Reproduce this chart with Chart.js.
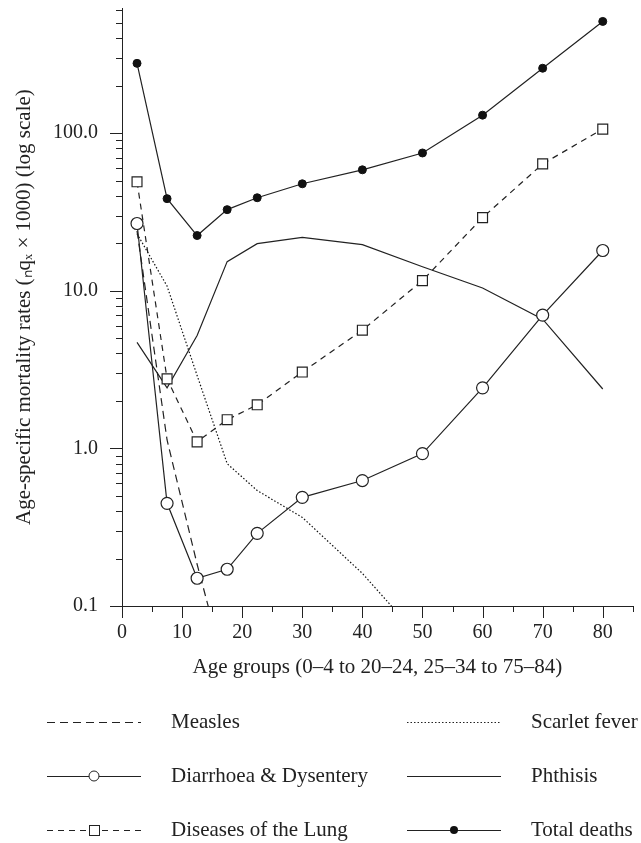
<!DOCTYPE html>
<html>
<head>
<meta charset="utf-8">
<script src="https://cdn.jsdelivr.net/npm/chart.js@4/dist/chart.umd.min.js"></script>
<style>
  html, body { margin: 0; padding: 0; background: #fff; }
  canvas { display: block; }
</style>
</head>
<body>
<canvas id="grafico" width="641" height="843"></canvas>
<script>
// mid points of the age groups
let edades = [2.5, 7.5, 12.5, 17.5, 22.5, 30, 40, 50, 60, 70, 80]

let totalDeaths = [277, 38.4, 22.4, 32.7, 38.9, 47.7, 58.5, 74.8, 130, 258, 511]
let lung = [49.1, 2.76, 1.10, 1.52, 1.89, 3.05, 5.62, 11.6, 29.1, 63.8, 106]
let diarrhoea = [26.7, 0.448, 0.150, 0.171, 0.289, 0.489, 0.625, 0.927, 2.42, 7.0, 18.0]
let phthisis = [4.7, 2.42, 5.2, 15.3, 19.9, 21.8, 19.6, 14.2, 10.4, 6.6, 2.38]
let measles = [24, 1.13, 0.184, 0.035]
let scarlet = [23, 10.7, 2.9, 0.80, 0.54, 0.365, 0.161, 0.06]

let ticksY = [0.1, 1, 10, 100]
let ticksX = [0, 10, 20, 30, 40, 50, 60, 70, 80]

let fuente = "'Liberation Serif', 'Times New Roman', serif"
let tinta = '#222'

function puntos(serie) {
    let res = []
    for (let j = 0; j < serie.length; j++) {
        res.push({ x: edades[j], y: serie[j] })
    }
    return res
}

const leyenda = [
    { texto: 'Measles', col: 0, fila: 0, dash: [8, 5], marca: null },
    { texto: 'Scarlet fever', col: 1, fila: 0, dash: [1.5, 2], marca: null },
    { texto: 'Diarrhoea & Dysentery', col: 0, fila: 1, dash: [], marca: 'circulo' },
    { texto: 'Phthisis', col: 1, fila: 1, dash: [], marca: null },
    { texto: 'Diseases of the Lung', col: 0, fila: 2, dash: [6, 5], marca: 'cuadro' },
    { texto: 'Total deaths', col: 1, fila: 2, dash: [], marca: 'lleno' }
]

// tick marks (major long, minor short) and the legend under the chart
const marcasPlugin = {
    id: 'marcas',
    afterDraw(chart) {
        const ctx = chart.ctx
        const sx = chart.scales.x
        const sy = chart.scales.y
        const area = chart.chartArea
        ctx.save()
        ctx.strokeStyle = tinta
        ctx.lineWidth = 1
        ctx.beginPath()
        for (let v = 0; v <= 85; v += 5) {
            let px = Math.round(sx.getPixelForValue(v)) + 0.5
            let largo = v % 10 == 0 ? 12 : 6
            ctx.moveTo(px, area.bottom)
            ctx.lineTo(px, area.bottom + largo)
        }
        for (let e = -1; e <= 2; e++) {
            for (let m = 1; m <= 9; m++) {
                let v = m * Math.pow(10, e)
                if (v > sy.max) continue
                let py = Math.round(sy.getPixelForValue(v)) + 0.5
                let largo = m == 1 ? 12 : 6
                ctx.moveTo(area.left - largo, py)
                ctx.lineTo(area.left, py)
            }
        }
        ctx.stroke()

        // legend
        const colX = [47, 407]
        const filaY = [722, 776, 830]
        ctx.font = '21px ' + fuente
        ctx.fillStyle = tinta
        ctx.textBaseline = 'middle'
        ctx.textAlign = 'left'
        leyenda.forEach(function (it) {
            let x0 = colX[it.col], y0 = filaY[it.fila]
            ctx.beginPath()
            ctx.setLineDash(it.dash)
            ctx.moveTo(x0, y0 + 0.5)
            ctx.lineTo(x0 + 94, y0 + 0.5)
            ctx.stroke()
            ctx.setLineDash([])
            let cx = x0 + 47
            if (it.marca == 'circulo') {
                ctx.beginPath()
                ctx.fillStyle = '#fff'
                ctx.arc(cx, y0, 5, 0, Math.PI * 2)
                ctx.fill()
                ctx.stroke()
            } else if (it.marca == 'cuadro') {
                ctx.fillStyle = '#fff'
                ctx.fillRect(cx - 5, y0 - 5, 10, 10)
                ctx.strokeRect(cx - 5 + 0.5, y0 - 5 + 0.5, 10, 10)
            } else if (it.marca == 'lleno') {
                ctx.beginPath()
                ctx.fillStyle = '#111'
                ctx.arc(cx, y0, 4, 0, Math.PI * 2)
                ctx.fill()
            }
            ctx.fillStyle = tinta
            ctx.fillText(it.texto, x0 + 124, y0)
        })
        ctx.restore()
    }
}

const data = {
    datasets: [
        {
            label: 'Total deaths',
            data: puntos(totalDeaths),
            borderColor: tinta,
            borderWidth: 1.2,
            pointRadius: 4,
            pointBackgroundColor: '#111',
            pointBorderColor: '#111',
            pointBorderWidth: 1
        },
        {
            label: 'Diseases of the Lung',
            data: puntos(lung),
            borderColor: tinta,
            borderWidth: 1.2,
            borderDash: [6, 5],
            pointStyle: 'rect',
            pointRadius: 7,
            pointBackgroundColor: '#fff',
            pointBorderColor: tinta,
            pointBorderWidth: 1.2
        },
        {
            label: 'Diarrhoea & Dysentery',
            data: puntos(diarrhoea),
            borderColor: tinta,
            borderWidth: 1.2,
            pointRadius: 6,
            pointBackgroundColor: '#fff',
            pointBorderColor: tinta,
            pointBorderWidth: 1.2
        },
        {
            label: 'Phthisis',
            data: puntos(phthisis),
            borderColor: tinta,
            borderWidth: 1.2,
            pointRadius: 0
        },
        {
            label: 'Measles',
            data: puntos(measles),
            borderColor: tinta,
            borderWidth: 1.2,
            borderDash: [8, 5],
            pointRadius: 0
        },
        {
            label: 'Scarlet fever',
            data: puntos(scarlet),
            borderColor: '#111',
            borderWidth: 1.2,
            borderDash: [1.5, 2],
            pointRadius: 0
        }
    ]
}

const config = {
    type: 'line',
    data: data,
    plugins: [marcasPlugin],
    options: {
        responsive: false,
        animation: false,
        devicePixelRatio: 1,
        layout: { padding: { top: 6, right: 5, bottom: 153, left: 0 } },
        plugins: {
            legend: { display: false },
            tooltip: { enabled: false }
        },
        elements: { line: { tension: 0 } },
        scales: {
            x: {
                type: 'linear',
                min: 0,
                max: 85,
                afterBuildTicks: function (scale) {
                    scale.ticks = ticksX.map(v => ({ value: v }))
                },
                afterFit: function (scale) { scale.height = 84 },
                grid: { display: false, drawTicks: false },
                border: { display: true, color: tinta, width: 1 },
                ticks: {
                    color: tinta,
                    padding: 15,
                    maxRotation: 0,
                    font: { family: fuente, size: 20 },
                    callback: v => '' + v
                },
                title: {
                    display: true,
                    text: 'Age groups (0–4 to 20–24, 25–34 to 75–84)',
                    color: tinta,
                    font: { family: fuente, size: 21 },
                    padding: { top: 0, bottom: 10 }
                }
            },
            y: {
                type: 'logarithmic',
                min: 0.1,
                max: 620,
                afterBuildTicks: function (scale) {
                    scale.ticks = ticksY.map(v => ({ value: v, major: true }))
                },
                afterFit: function (scale) {
                    scale.width = 122
                    scale.paddingTop = 0
                    scale.paddingBottom = 0
                },
                grid: { display: false, drawTicks: false },
                border: { display: true, color: tinta, width: 1 },
                ticks: {
                    color: tinta,
                    padding: 24,
                    font: { family: fuente, size: 20 },
                    callback: v => Number(v).toFixed(1)
                },
                title: {
                    display: true,
                    text: 'Age-specific mortality rates (ₙqₓ × 1000) (log scale)',
                    color: tinta,
                    font: { family: fuente, size: 21 },
                    padding: { top: 12, bottom: 0 }
                }
            }
        }
    }
}

const myChart = new Chart(document.getElementById('grafico'), config)
</script>
</body>
</html>
